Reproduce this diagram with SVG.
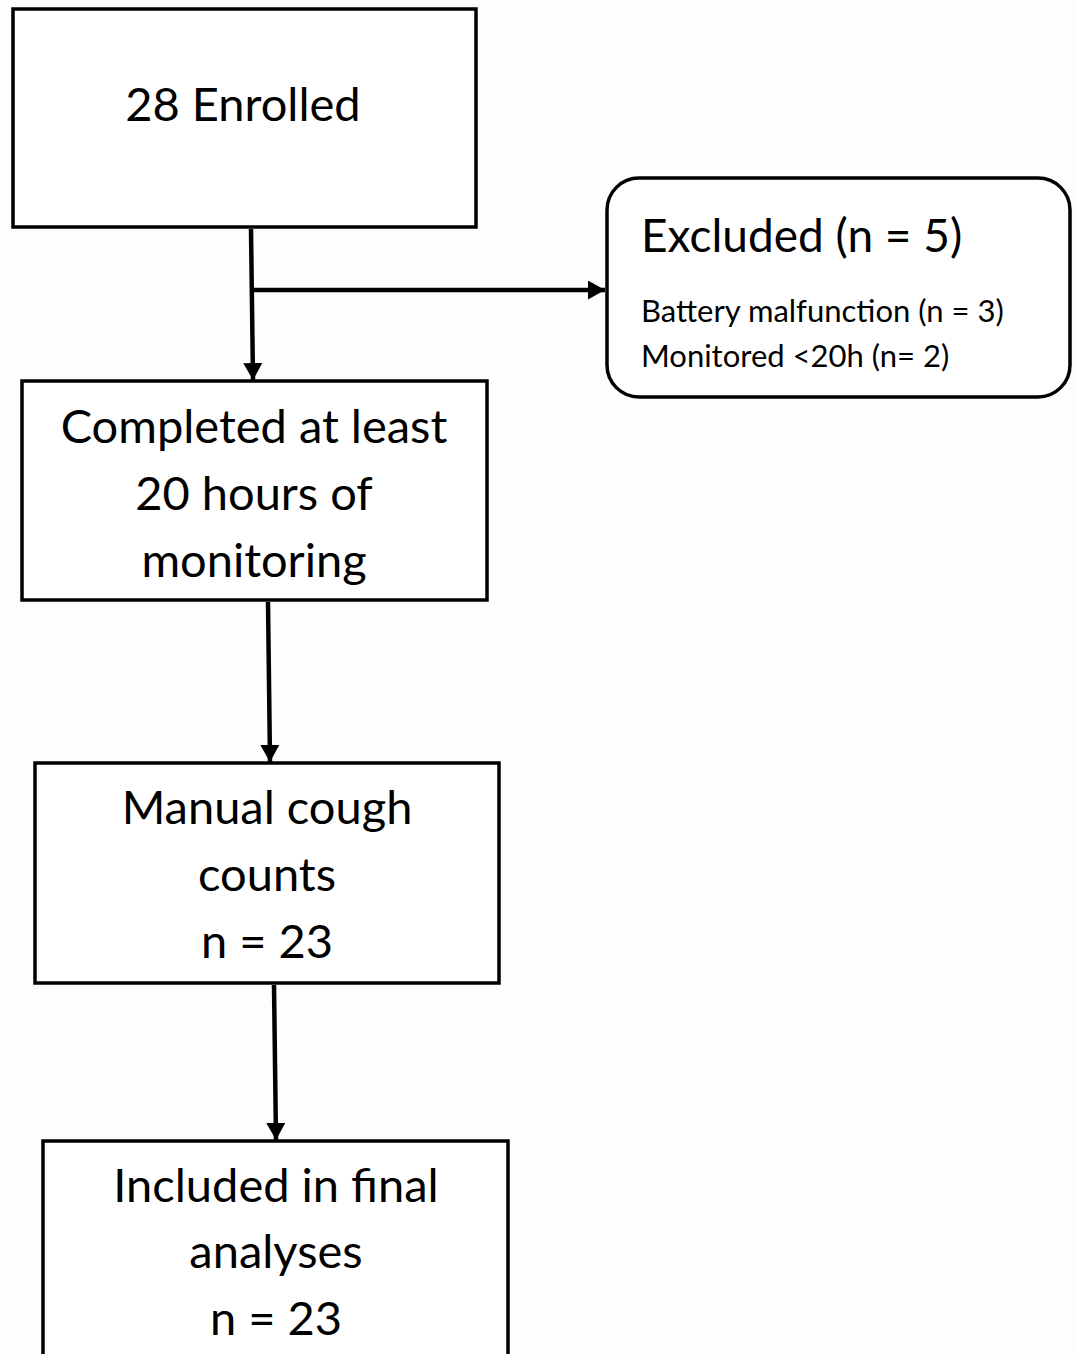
<svg xmlns="http://www.w3.org/2000/svg" width="1077" height="1354" viewBox="0 0 1077 1354">
<style>
.box{fill:#fff;stroke:#000;stroke-width:3.5}
.t{font-family:Lato,"Noto Sans",sans-serif;fill:#000;text-anchor:middle}
.big{font-size:47px}
.ex{font-size:46px;text-anchor:start}
.sm{font-size:31px;text-anchor:start}
.c{stroke:#000;stroke-width:4.5;fill:none}
</style>
<defs>
<marker id="ah" markerWidth="17" markerHeight="19" refX="17" refY="9.5" orient="auto" markerUnits="userSpaceOnUse">
<path d="M0,0 L17,9.5 L0,19 z" fill="#000"/>
</marker>
</defs>
<rect width="1077" height="1354" fill="#fdfdfd"/>
<g id="enrolled">
<rect class="box" x="13" y="9" width="463" height="218"/>
<text class="t big" x="243" y="121">28 Enrolled</text>
</g>
<g id="excluded">
<rect class="box" x="607" y="178" width="463" height="219" rx="32"/>
<text class="t ex" x="641" y="252">Excluded (n = 5)</text>
<text class="t sm" x="641" y="322">Battery malfunction (n = 3)</text>
<text class="t sm" x="641" y="367">Monitored &lt;20h (n= 2)</text>
</g>
<g id="completed">
<rect class="box" x="22" y="381" width="465" height="219"/>
<text class="t big" x="254" y="443">Completed at least</text>
<text class="t big" x="254" y="510">20 hours of</text>
<text class="t big" x="254" y="577">monitoring</text>
</g>
<g id="manual">
<rect class="box" x="35" y="763" width="464" height="220"/>
<text class="t big" x="267" y="824">Manual cough</text>
<text class="t big" x="267" y="891">counts</text>
<text class="t big" x="267" y="958">n = 23</text>
</g>
<g id="included">
<rect class="box" x="43" y="1141" width="465" height="230"/>
<text class="t big" x="276" y="1202">Included in final</text>
<text class="t big" x="276" y="1268">analyses</text>
<text class="t big" x="276" y="1335">n = 23</text>
</g>
<g id="connectors">
<line class="c" x1="251" y1="229" x2="253" y2="380" marker-end="url(#ah)"/>
<line class="c" x1="253" y1="290" x2="605" y2="290" marker-end="url(#ah)"/>
<line class="c" x1="268" y1="602" x2="270" y2="762" marker-end="url(#ah)"/>
<line class="c" x1="274" y1="985" x2="276" y2="1140" marker-end="url(#ah)"/>
</g>
</svg>
